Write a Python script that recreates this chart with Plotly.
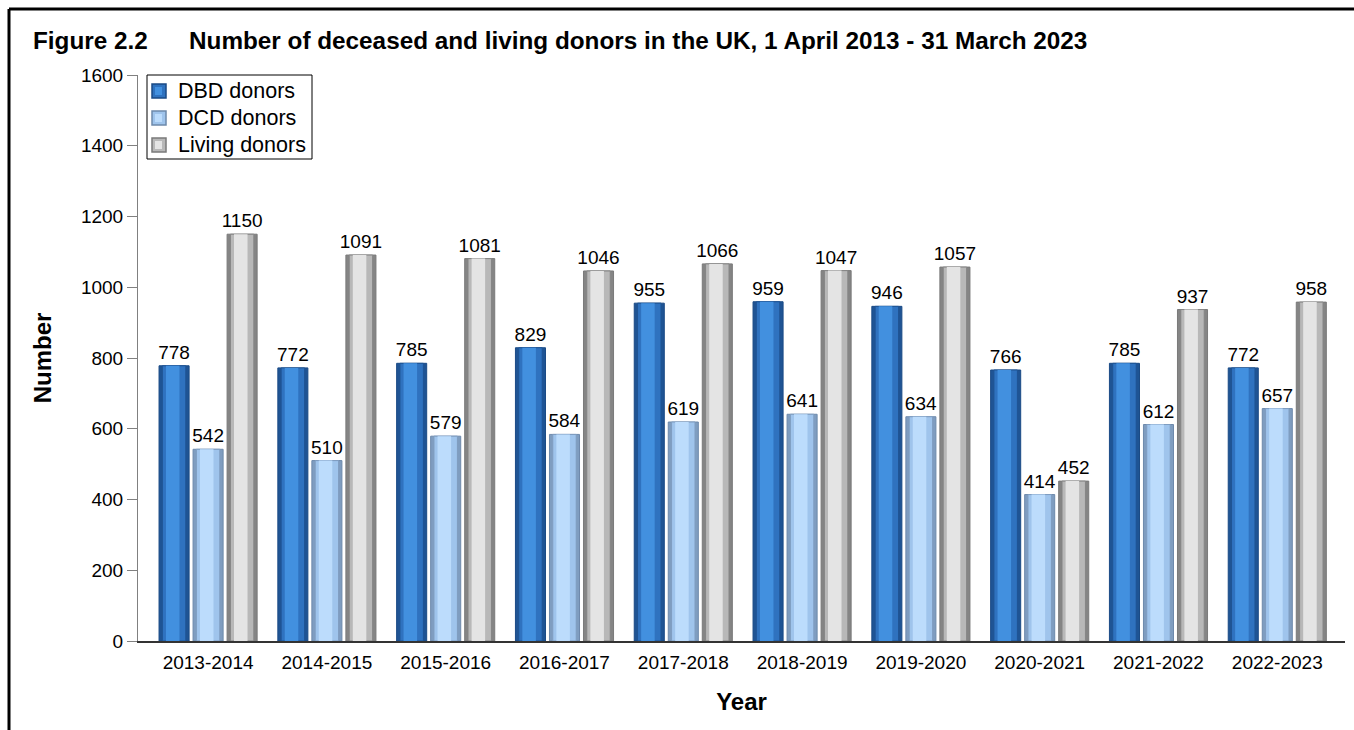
import plotly.graph_objects as go

years = ["2013-2014", "2014-2015", "2015-2016", "2016-2017", "2017-2018",
         "2018-2019", "2019-2020", "2020-2021", "2021-2022", "2022-2023"]
dbd = [778, 772, 785, 829, 955, 959, 946, 766, 785, 772]
dcd = [542, 510, 579, 584, 619, 641, 634, 414, 612, 657]
living = [1150, 1091, 1081, 1046, 1066, 1047, 1057, 452, 937, 958]
names = ["DBD donors", "DCD donors", "Living donors"]

series = [
    (names[0], dbd, -0.2864, ("#1f5494", "#2f72bf", "#4290df"), "#1a4a85"),
    (names[1], dcd, 0.0, ("#7f9dc0", "#9fc4ec", "#bcdcfc"), "#6d89ab"),
    (names[2], living, 0.2864, ("#858585", "#b8b8b8", "#e4e4e4"), "#7a7a7a"),
]

# pixel geometry helpers
L, R, T, B = 138, 9, 75, 89
PW, PH = 1354 - L - R, 730 - T - B


def px(x):
    return (x - L) / PW


def py(y):
    return (730 - B - y) / PH


W = 0.253
FONT = "Liberation Sans, Arial, sans-serif"
fig = go.Figure()
for name, vals, off, cols, edge in series:
    fig.add_trace(go.Bar(
        x=years, y=vals, name=name, showlegend=False,
        width=W, offset=off - W / 2,
        marker=dict(color=cols[0], line=dict(color=edge, width=1)),
        text=[str(v) for v in vals], textposition="outside", constraintext="none",
        textfont=dict(size=19, color="#000000", family=FONT),
        cliponaxis=False, hoverinfo="skip"))
    w2 = W * 0.78
    fig.add_trace(go.Bar(
        x=years, y=vals, name=name, showlegend=False,
        width=w2, offset=off - w2 / 2,
        marker=dict(color=cols[1], line=dict(color=cols[0], width=1)),
        hoverinfo="skip"))
    w3 = W * 0.45
    fig.add_trace(go.Bar(
        x=years, y=vals, name=name, showlegend=False,
        width=w3, offset=off - W * 0.27,
        marker=dict(color=cols[2], line=dict(width=0)),
        hoverinfo="skip"))

# manual legend (frame, swatches, labels)
shapes = [
    dict(type="rect", xref="paper", yref="paper", layer="above",
         x0=px(147), x1=px(312), y0=py(75), y1=py(159),
         line=dict(color="#000000", width=1), fillcolor="white"),
]
annotations = []
for i, (name, vals, off, cols, edge) in enumerate(series):
    cy = [91, 118, 145][i]
    shapes.append(dict(type="rect", xref="paper", yref="paper", layer="above",
                       x0=px(152), x1=px(166), y0=py(cy - 7), y1=py(cy + 7),
                       line=dict(color=edge, width=1.5), fillcolor=cols[1]))
    shapes.append(dict(type="rect", xref="paper", yref="paper", layer="above",
                       x0=px(155), x1=px(162), y0=py(cy - 4), y1=py(cy + 4),
                       line=dict(width=0), fillcolor=cols[2]))
    annotations.append(dict(text=name, xref="paper", yref="paper",
                            x=px(176), y=py(cy), xanchor="left", yanchor="middle",
                            showarrow=False, font=dict(size=21.5, family=FONT)))

# figure frame (top and left edges)
shapes += [
    dict(type="line", xref="paper", yref="paper",
         x0=px(9), x1=px(1360), y0=py(9), y1=py(9),
         line=dict(color="#000000", width=3)),
    dict(type="line", xref="paper", yref="paper",
         x0=px(9), x1=px(9), y0=py(9), y1=py(740),
         line=dict(color="#000000", width=3)),
]
annotations += [
    dict(text="<b>Figure 2.2</b>", xref="paper", yref="paper",
         x=px(31), y=py(40), xanchor="left", yanchor="middle",
         showarrow=False, font=dict(size=24.3, family=FONT)),
    dict(text="<b>Number of deceased and living donors in the UK, 1 April 2013 - 31 March 2023</b>",
         xref="paper", yref="paper",
         x=px(187), y=py(40), xanchor="left", yanchor="middle",
         showarrow=False, font=dict(size=24.3, family=FONT)),
]

fig.update_layout(
    width=1354, height=730,
    barmode="overlay",
    paper_bgcolor="white", plot_bgcolor="white",
    margin=dict(l=L, r=R, t=T, b=B),
    font=dict(family=FONT, color="#000000", size=19),
    showlegend=False,
    xaxis=dict(type="category", range=[-0.59, 9.57], showgrid=False,
               showline=True, linecolor="#333333", linewidth=2,
               ticks="", tickfont=dict(size=19, family=FONT), ticklabelstandoff=3,
               title=dict(text="<b>Year</b>", font=dict(size=24, family=FONT), standoff=21)),
    yaxis=dict(range=[0, 1600], tickvals=[0, 200, 400, 600, 800, 1000, 1200, 1400, 1600],
               showgrid=False, zeroline=False, showline=True, linecolor="#808080", linewidth=1,
               ticks="outside", ticklen=10, tickcolor="#808080",
               tickfont=dict(size=19, family=FONT),
               title=dict(text="<b>Number</b>", font=dict(size=24, family=FONT), standoff=22)),
    shapes=shapes,
    annotations=annotations,
)

fig.write_html("out.html", config={"displayModeBar": False},
               post_script="document.body.style.margin='0px';document.body.style.overflow='hidden';")
